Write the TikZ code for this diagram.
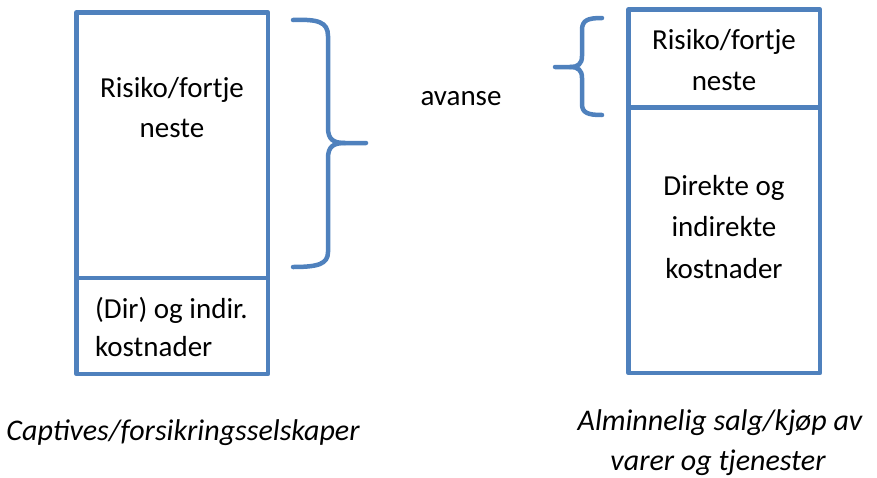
\documentclass[tikz,border=0pt]{standalone}
\usepackage{fontspec}
\setmainfont{Carlito}
\definecolor{boxblue}{RGB}{79,129,189}
\begin{document}
\begin{tikzpicture}[x=1pt,y=-1pt,
  frame/.style={draw=boxblue,line width=4.5pt,line join=round},
  brace/.style={draw=boxblue,line width=4.5pt,line cap=round,line join=round},
  lbl/.style={font=\fontsize{29}{41}\selectfont,anchor=base,inner sep=0pt},
  ilbl/.style={font=\fontsize{30}{41}\selectfont\itshape,anchor=base,inner sep=0pt}]
\useasboundingbox (0,0) rectangle (877,477);
% left box
\draw[frame] (76.5,12.5) rectangle (268,374);
\draw[frame] (76.5,278) -- (268,278);
% right box
\draw[frame] (628.5,9.5) rectangle (820,373);
\draw[frame] (628.5,107.5) -- (820,107.5);
% left brace
\draw[brace] (293,20) .. controls (318,19) and (328,22) .. (328,36)
  -- (328,128) .. controls (328,140) and (334,143) .. (345,143) -- (366,143);
\draw[brace] (345,143) .. controls (334,143) and (328,146) .. (328,158)
  -- (328,252) .. controls (328,264) and (318,267) .. (293,267);
% right brace
\draw[brace] (602,18) .. controls (588,18) and (582,20) .. (582,30)
  -- (582,56) .. controls (582,64) and (578,67) .. (570,67) -- (555,67);
\draw[brace] (570,67) .. controls (578,67) and (582,70) .. (582,78)
  -- (582,104) .. controls (582,113) and (588,115) .. (602,115);
% texts
\node[lbl] (lrisk1) at (172,97) {Risiko/fortje};
\node[lbl] (lrisk2) at (172,137) {neste};
\node[lbl,anchor=base west] (lcost1) at (95,318) {(Dir) og indir.};
\node[lbl,anchor=base west] (lcost2) at (95,356) {kostnader};
\node[lbl] (rrisk1) at (724,49) {Risiko/fortje};
\node[lbl] (rrisk2) at (724,90) {neste};
\node[lbl] (rcost1) at (724,195) {Direkte og};
\node[lbl] (rcost2) at (724,236) {indirekte};
\node[lbl] (rcost3) at (724,278) {kostnader};
\node[lbl] (avanse) at (461,105) {avanse};
\node[ilbl] (capt) at (183,440) {Captives/forsikringsselskaper};
\node[ilbl] (alm1) at (720,430) {Alminnelig salg/kjøp av};
\node[ilbl] (alm2) at (718,470) {varer og tjenester};
\end{tikzpicture}
\end{document}
